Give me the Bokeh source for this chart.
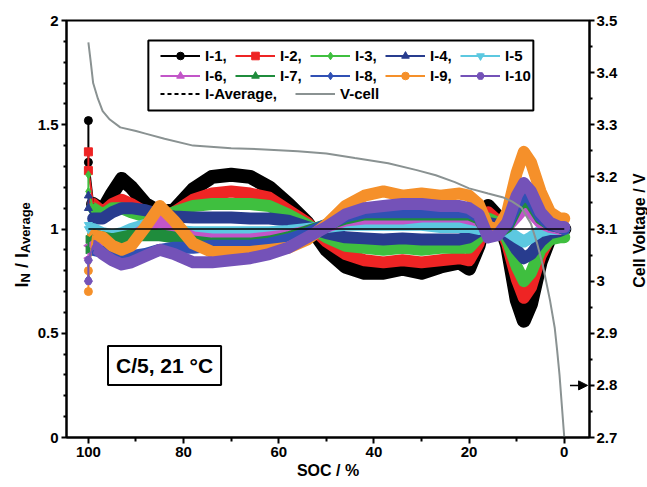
import math
from bokeh.plotting import figure
from bokeh.layouts import row
from bokeh.models import (Range1d, LinearAxis, FixedTicker, Legend, LegendItem,
                          Label, BoxAnnotation, Arrow, NormalHead)
from bokeh.embed import file_html
from bokeh.resources import INLINE

# ---------------- data ----------------
soc = [100, 100, 99, 97, 95, 93, 91, 88, 85, 82, 78, 74, 70, 66, 62, 58, 54, 50, 46,
       42, 38, 34, 30, 26, 22, 20, 18, 16, 14, 12, 10, 8.5, 7, 5, 3, 1, 0]

i1 = [1.52, 1.32, 1.12, 1.09, 1.17, 1.24, 1.20, 1.12, 1.08, 1.09, 1.19, 1.25, 1.26, 1.25, 1.20, 1.12, 1.03, 0.90, 0.82,
      0.79, 0.79, 0.81, 0.79, 0.82, 0.84, 0.81, 0.92, 1.11, 1.06, 0.92, 0.66, 0.56, 0.64, 0.84, 0.96, 0.99, 1.00]
i2 = [1.37, 1.28, 1.12, 1.08, 1.12, 1.14, 1.12, 1.08, 1.05, 1.08, 1.14, 1.17, 1.18, 1.17, 1.15, 1.09, 1.03, 0.94, 0.88,
      0.85, 0.84, 0.85, 0.84, 0.85, 0.86, 0.85, 0.93, 1.08, 1.04, 0.93, 0.76, 0.67, 0.72, 0.87, 0.96, 0.99, 1.00]
i3 = [1.26, 1.18, 1.10, 1.07, 1.10, 1.10, 1.08, 1.06, 1.05, 1.08, 1.11, 1.12, 1.12, 1.12, 1.11, 1.07, 1.02, 0.96, 0.92,
      0.91, 0.90, 0.91, 0.90, 0.91, 0.91, 0.91, 0.96, 1.05, 1.03, 0.95, 0.82, 0.75, 0.79, 0.90, 0.95, 0.96, 0.96]
i4 = [1.16, 1.10, 1.05, 1.05, 1.08, 1.10, 1.10, 1.09, 1.07, 1.06, 1.055, 1.055, 1.055, 1.05, 1.05, 1.04, 1.01, 0.98, 0.96,
      0.955, 0.95, 0.955, 0.95, 0.95, 0.95, 0.96, 0.99, 1.03, 1.02, 0.97, 0.90, 0.86, 0.88, 0.94, 0.98, 0.99, 1.00]
i5 = [1.02, 1.00, 1.00, 0.98, 0.97, 0.98, 1.00, 1.02, 1.01, 0.99, 0.985, 0.985, 0.985, 0.985, 0.985, 0.99, 1.00, 1.01, 1.02,
      1.02, 1.02, 1.02, 1.02, 1.01, 1.01, 1.01, 1.00, 1.00, 1.00, 0.99, 0.96, 0.94, 0.96, 0.99, 1.00, 1.00, 1.00]
i6 = [0.86, 0.92, 0.96, 0.95, 0.93, 0.93, 0.96, 1.00, 1.04, 1.00, 0.96, 0.95, 0.95, 0.95, 0.96, 0.97, 0.99, 1.01, 1.04,
      1.05, 1.05, 1.05, 1.06, 1.06, 1.06, 1.05, 1.04, 0.99, 0.99, 1.01, 1.06, 1.10, 1.08, 1.03, 1.01, 1.00, 1.00]
i7 = [0.90, 0.95, 0.97, 0.96, 0.95, 0.96, 0.97, 0.97, 0.97, 0.96, 0.94, 0.93, 0.93, 0.93, 0.94, 0.96, 0.99, 1.02, 1.05,
      1.07, 1.07, 1.07, 1.07, 1.07, 1.07, 1.07, 1.05, 0.98, 0.98, 1.01, 1.10, 1.14, 1.12, 1.05, 1.02, 1.01, 1.00]
i8 = [0.76, 0.85, 0.90, 0.89, 0.88, 0.87, 0.87, 0.88, 0.90, 0.91, 0.91, 0.92, 0.92, 0.92, 0.93, 0.95, 0.98, 1.02, 1.06,
      1.08, 1.08, 1.08, 1.08, 1.08, 1.08, 1.08, 1.06, 0.98, 0.98, 1.02, 1.12, 1.17, 1.14, 1.06, 1.02, 1.01, 1.00]
i9 = [0.70, 0.80, 0.97, 0.96, 0.92, 0.90, 0.92, 1.01, 1.11, 1.04, 0.93, 0.89, 0.89, 0.89, 0.90, 0.91, 0.95, 1.02, 1.11,
      1.16, 1.18, 1.16, 1.17, 1.16, 1.17, 1.16, 1.12, 1.01, 1.00, 1.08, 1.27, 1.37, 1.32, 1.18, 1.08, 1.05, 1.05]
i10 = [0.75, 0.85, 0.92, 0.88, 0.85, 0.83, 0.84, 0.87, 0.90, 0.88, 0.84, 0.84, 0.85, 0.86, 0.88, 0.91, 0.96, 1.01, 1.07,
       1.10, 1.11, 1.12, 1.12, 1.11, 1.11, 1.10, 1.07, 0.96, 0.97, 1.03, 1.16, 1.22, 1.18, 1.08, 1.03, 1.01, 1.01]

avg_soc = [100, 0]
avg_val = [1.0, 1.0]

soc_v = [100, 99.5, 99, 98, 97, 95.5, 93.3, 90, 88, 84, 78, 70, 64, 56, 50, 44, 37, 31, 27, 23,
         20, 16, 13, 11, 9, 7, 5.7, 4.5, 3, 2, 1.5, 1, 0.5, 0]
volt = [3.458, 3.42, 3.38, 3.35, 3.326, 3.31, 3.295, 3.288, 3.283, 3.273, 3.26, 3.255, 3.253, 3.249,
        3.245, 3.236, 3.226, 3.213, 3.203, 3.19, 3.178, 3.168, 3.161, 3.153, 3.141, 3.11, 3.072,
        3.03, 2.963, 2.91, 2.867, 2.82, 2.76, 2.70]

names = ["I-1,", "I-2,", "I-3,", "I-4,", "I-5", "I-6,", "I-7,", "I-8,", "I-9,", "I-10"]
series = [i1, i2, i3, i4, i5, i6, i7, i8, i9, i10]
colors = ["#000000", "#ee2424", "#3fbf3f", "#283c8e", "#5cc8e0",
          "#c255c8", "#1f8c3c", "#3050b4", "#f5902a", "#7452b8"]
markers = ["circle", "square", "diamond", "triangle", "inverted_triangle",
           "triangle", "triangle", "diamond", "circle", "hex"]
angles = [0, 0, 0, 0, 0, math.pi / 2, -math.pi / 2, 0, 0, 0]

x_ticks = [100, 80, 60, 40, 20, 0]
x_minor = [90, 70, 50, 30, 10]
y_ticks = [0, 0.5, 1, 1.5, 2]
y_tick_labels = ["0", "0.5", "1", "1.5", "2"]
v_ticks = [2.7, 2.8, 2.9, 3.0, 3.1, 3.2, 3.3, 3.4, 3.5]
v_tick_labels = ["2.7", "2.8", "2.9", "3", "3.1", "3.2", "3.3", "3.4", "3.5"]

FONT = "Liberation Sans"
H = 486
QW = 34    # width of the left title strip
RW = 20    # width of the right title strip
PW = 627 - QW

# ---------------- main figure ----------------
p = figure(width=PW, height=H, x_range=Range1d(104.6, -5.3), y_range=Range1d(0, 2),
           output_backend="svg", toolbar_location=None,
           min_border_left=66 - QW, min_border_right=627 - 589, min_border_top=20, min_border_bottom=49)
p.title.visible = False
p.extra_y_ranges = {"v": Range1d(2.7, 3.5)}
p.xgrid.visible = False
p.ygrid.visible = False
p.outline_line_color = "black"
p.outline_line_width = 2
p.background_fill_color = "white"
p.border_fill_color = "white"


def style_axis(ax, major_out=6, minor_out=4):
    ax.axis_line_width = 2
    ax.axis_line_color = "black"
    ax.major_tick_line_width = 2
    ax.minor_tick_line_width = 2
    ax.major_tick_out = major_out
    ax.major_tick_in = 0
    ax.minor_tick_out = minor_out
    ax.minor_tick_in = 0
    ax.major_label_text_font = FONT
    ax.major_label_text_font_style = "bold"
    ax.major_label_text_font_size = "15px"
    ax.major_label_text_color = "black"
    ax.axis_label_text_font = FONT
    ax.axis_label_text_font_style = "bold"
    ax.axis_label_text_font_size = "16px"
    ax.axis_label_text_color = "black"


xa = p.xaxis[0]
xa.ticker = FixedTicker(ticks=x_ticks, minor_ticks=x_minor)
xa.axis_label = "SOC / %"
xa.major_label_standoff = 3
xa.axis_label_standoff = 2
style_axis(xa, 6, 4)

ya = p.yaxis[0]
ya.ticker = FixedTicker(ticks=y_ticks, minor_ticks=[k / 10 for k in range(1, 20) if k % 5])
ya.major_label_overrides = {t: s for t, s in zip(y_ticks, y_tick_labels)}
ya.axis_label = None
ya.major_label_standoff = 3
style_axis(ya, 5, 3)

va = LinearAxis(y_range_name="v")
va.ticker = FixedTicker(ticks=v_ticks, minor_ticks=[round(2.75 + 0.1 * k, 2) for k in range(8)])
va.major_label_overrides = {t: s for t, s in zip(v_ticks, v_tick_labels)}
va.major_label_standoff = 2
style_axis(va, 5, 3)
p.add_layout(va, "right")

# ---------------- data glyphs ----------------
for vals, col in zip(series, colors):
    lw = 14 if col == "#000000" else 12
    p.line(soc[2:], vals[2:], line_color=col, line_width=lw, line_join="round", line_cap="round")
for vals, col, mk, ang in zip(series, colors, markers, angles):
    p.line(soc[:3], vals[:3], line_color=col, line_width=2)
    p.scatter(soc[:2], vals[:2], marker=mk, angle=ang, size=8, color=col)

p.line(soc_v, volt, y_range_name="v", line_color="#8a9292", line_width=2)
p.line(avg_soc, avg_val, line_color="black", line_width=1.5)

p.add_layout(Arrow(end=NormalHead(size=9, fill_color="black", line_color="black"),
                   x_start=-1.2, y_start=2.8, x_end=-4.9, y_end=2.8, y_range_name="v",
                   line_color="black", line_width=1.5))

# ---------------- legend ----------------
p.add_layout(BoxAnnotation(left=87.4, right=6.5, bottom=1.568, top=1.904,
                           fill_color="white", fill_alpha=1.0, line_color="black",
                           line_alpha=1.0, line_width=2))

items = []
for vals, name, col, mk, ang in zip(series, names, colors, markers, angles):
    r1 = p.line(soc, vals, line_color=col, line_width=2, visible=False)
    r2 = p.scatter(soc, vals, marker=mk, angle=ang, size=8, color=col, visible=False)
    items.append(LegendItem(label=name, renderers=[r1, r2]))

ra = p.line(avg_soc, avg_val, line_color="black", line_width=2, line_dash="4 3", visible=False)
rv = p.line(soc_v, volt, y_range_name="v", line_color="#8a9292", line_width=2, visible=False)
items2 = [LegendItem(label="I-Average,", renderers=[ra]), LegendItem(label="V-cell", renderers=[rv])]


def style_legend(lg):
    lg.label_text_font = FONT
    lg.label_text_font_style = "bold"
    lg.label_text_font_size = "15px"
    lg.label_text_color = "black"
    lg.glyph_width = 40
    lg.glyph_height = 19
    lg.label_height = 19
    lg.label_standoff = 5
    lg.padding = 0
    lg.margin = 0
    lg.border_line_alpha = 0
    lg.background_fill_alpha = 0
    lg.inactive_fill_alpha = 0
    lg.label_text_baseline = "middle"
    lg.click_policy = "none"


leg1 = Legend(items=items, ncols=5, orientation="horizontal", location=(94, 352))
style_legend(leg1)
leg1.spacing = 1
leg1.label_width = 29
leg2 = Legend(items=items2, orientation="horizontal", location=(94, 334))
style_legend(leg2)
leg2.spacing = 18
p.add_layout(leg1)
p.add_layout(leg2)

p.add_layout(Label(x=84, y=0.345, text="C/5, 21 °C", text_align="center", text_baseline="middle",
                   text_font=FONT, text_font_style="bold", text_font_size="21px", text_color="black",
                   border_line_color="black", border_line_width=2, padding=8,
                   background_fill_color="white"))


# ---------------- side strips holding the rotated axis titles ----------------
def strip(w):
    f = figure(width=w, height=H, x_range=Range1d(0, w), y_range=Range1d(0, 2),
               x_axis_location=None, y_axis_location=None, min_border=0,
               output_backend="svg", toolbar_location=None)
    f.title.visible = False
    f.outline_line_color = None
    f.xgrid.visible = False
    f.ygrid.visible = False
    f.border_fill_color = "white"
    f.background_fill_color = "white"
    return f


def v_of(py):  # value on the 0..2 scale at a given vertical pixel of the aligned frame
    return (437 - py) / 208.5


q = strip(QW)
ylab = [("I", 21, 287, "18px"), ("N", 25, 282, "13px"),
        ("/ I", 21, 267.5, "18px"), ("Average", 25, 252.5, "13px")]
for txt, xx, py, fs in ylab:
    q.add_layout(Label(x=xx, y=v_of(py), text=txt, angle=math.pi / 2, text_align="left",
                       text_baseline="alphabetic", text_font=FONT, text_font_style="bold",
                       text_font_size=fs, text_color="black"))

r = strip(RW)
r.add_layout(Label(x=12, y=v_of(230), text="Cell Voltage / V", angle=math.pi / 2, text_align="center",
                   text_baseline="alphabetic", text_font=FONT, text_font_style="bold",
                   text_font_size="16px", text_color="black"))

layout = row(q, p, r)
open("out.html", "w").write(file_html(layout, INLINE))
